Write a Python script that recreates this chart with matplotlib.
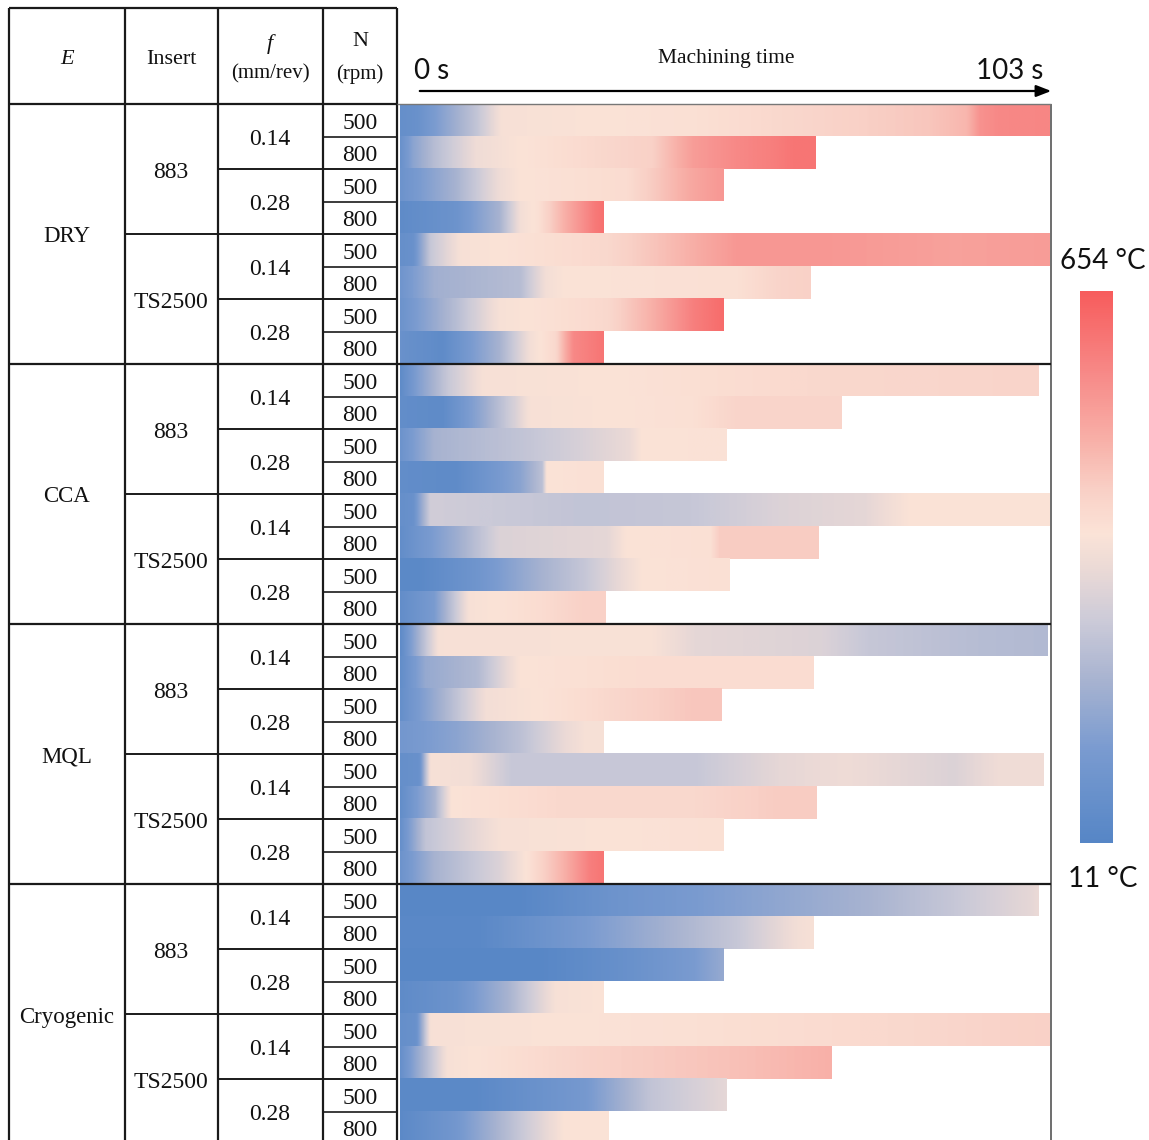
import numpy as np
import matplotlib as mpl
import matplotlib.pyplot as plt
from matplotlib.colors import LinearSegmentedColormap, Normalize

# ---------------- data ----------------
environments = ['DRY', 'CCA', 'MQL', 'Cryogenic']
inserts = ['883', 'TS2500']
feeds = ['0.14', '0.28']
speeds = ['500', '800']

temp_min, temp_max = 11, 654
time_max = 103

# machining time of each test (s), rows top to bottom
cut_time = [103, 65.8, 51.3, 32.2, 103, 65.0, 51.3, 32.2,
            101.2, 70.0, 51.8, 32.2, 103, 66.4, 52.2, 32.6,
            102.6, 65.5, 50.9, 32.2, 102, 66.0, 51.3, 32.2,
            101.2, 65.5, 51.3, 32.2, 103, 68.4, 51.8, 33.0]

# temperature: times (s) and temperatures (C)
knot_t = [
    [0, 2.6, 12, 16, 47, 67, 84, 90, 92, 95, 103],
    [0, 2.0, 5.4, 12, 19, 40, 46.6, 53.5, 59, 62.4, 65.8],
    [0, 8.8, 15.7, 19, 36, 41, 46.6, 51.3],
    [0, 8.8, 15.7, 19, 21.9, 26, 30.8, 32.2],
    [0, 2.0, 4.7, 9.5, 32.9, 43, 53.5, 67, 88, 103],
    [0, 5.4, 19, 23, 26, 53.5, 60, 65],
    [0, 8.8, 15.7, 33, 40, 46.6, 51.3],
    [0, 6.7, 15.7, 20.5, 24.6, 27.4, 32.2],
    [0, 2.6, 7.4, 13, 33, 67, 101.2],
    [0, 6.7, 12.2, 18.4, 20.5, 46.6, 53.5, 70],
    [0, 5.4, 19, 26, 36.3, 38.4, 51.8],
    [0, 8.8, 19, 22.5, 23.2, 32.2],
    [0, 2.0, 4.7, 12.2, 29.4, 46.6, 60, 74, 81, 103],
    [0, 8.8, 15.7, 33, 36, 49.3, 50.7, 66.4],
    [0, 3.3, 12.2, 22.5, 29.4, 34.2, 38.4, 52.2],
    [0, 5.4, 10.9, 22.5, 29.4, 32.6],
    [0, 3.3, 6, 39.7, 46.6, 67, 74, 91, 102.6],
    [0, 4, 12.2, 17, 19, 39.7, 65.5],
    [0, 6.7, 13.6, 29.4, 40, 46.6, 50.9],
    [0, 8.8, 19, 26, 29.4, 32.2],
    [0, 3.0, 4.7, 10.9, 17.7, 46.6, 60, 70.7, 87.8, 94.7, 102],
    [0, 5.4, 8.1, 26, 46.6, 60, 66],
    [0, 4, 15.7, 51.3],
    [0, 5.4, 15.7, 20.5, 26, 30, 32.2],
    [0, 19, 33, 53.5, 74, 88, 100, 101.2],
    [0, 12.2, 26, 39.7, 53.5, 63, 65.5],
    [0, 22.5, 36.3, 46.6, 51.3],
    [0, 8.8, 17, 24.6, 32.2],
    [0, 2.5, 4.7, 46.6, 81, 103],
    [0, 7.4, 33, 53.5, 68.4],
    [0, 12.2, 29.4, 39.7, 51.8],
    [0, 8.8, 19, 26, 33],
]
knot_T = [
    [60, 70, 250, 360, 380, 410, 440, 470, 540, 560, 565],
    [70, 150, 230, 340, 370, 420, 520, 560, 580, 600, 600],
    [80, 200, 340, 370, 390, 440, 500, 530],
    [40, 80, 200, 350, 380, 480, 590, 610],
    [60, 70, 260, 360, 400, 460, 530, 530, 510, 520],
    [90, 190, 230, 350, 370, 380, 410, 420],
    [80, 230, 360, 400, 480, 580, 620],
    [70, 40, 200, 350, 400, 560, 600],
    [40, 130, 260, 360, 370, 400, 410],
    [50, 40, 150, 300, 360, 380, 410, 410],
    [80, 200, 250, 280, 330, 370, 375],
    [50, 40, 150, 240, 370, 380],
    [60, 70, 280, 270, 250, 260, 300, 320, 370, 370],
    [50, 180, 300, 320, 370, 380, 430, 430],
    [30, 30, 90, 200, 260, 320, 370, 380],
    [50, 120, 360, 390, 420, 420],
    [40, 220, 360, 365, 320, 300, 260, 230, 220],
    [50, 170, 220, 330, 370, 390, 390],
    [60, 200, 350, 390, 420, 440, 440],
    [100, 150, 240, 330, 360, 360],
    [60, 70, 360, 350, 260, 260, 320, 340, 300, 340, 345],
    [50, 200, 370, 400, 400, 430, 430],
    [60, 250, 360, 380],
    [80, 200, 300, 380, 480, 580, 600],
    [20, 20, 80, 140, 200, 260, 320, 330],
    [25, 25, 100, 180, 260, 350, 360],
    [20, 20, 70, 120, 170],
    [40, 80, 200, 360, 370],
    [60, 70, 360, 380, 400, 420],
    [60, 360, 420, 450, 480],
    [30, 30, 110, 250, 320],
    [30, 100, 260, 370, 370],
]

# ---------------- figure ----------------
W, H = 1149, 1140
fig = plt.figure(figsize=(W / 100, H / 100), dpi=100)

cmap = LinearSegmentedColormap.from_list('temp', [
    (0.0, '#5686c6'), (0.17, '#7a9bd0'), (0.29, '#a6b2d0'),
    (0.40, '#cbcad8'), (0.50, '#ecdad6'), (0.56, '#fbe3d7'),
    (0.64, '#f9d0c6'), (0.73, '#f8b0a8'), (0.85, '#f78a88'),
    (1.0, '#f75c5c')])
norm = Normalize(temp_min, temp_max)

y0, rh = 104, 32.5          # header bottom and row height in pixels
n_rows = len(cut_time)
y_end = y0 + n_rows * rh

# heat bars
ax_heat = fig.add_axes([397 / W, 1 - y_end / H, 654 / W, (y_end - y0) / H])
for i in range(n_rows):
    tt = np.linspace(0, cut_time[i], 400)
    TT = np.interp(tt, knot_t[i], knot_T[i])
    ax_heat.imshow(TT[None, :], cmap=cmap, norm=norm, aspect='auto',
                   extent=(0, cut_time[i], i + 0.5, i - 0.5),
                   interpolation='bilinear')
ax_heat.set_xlim(-0.475, 103.17)
ax_heat.set_ylim(n_rows - 0.5, -0.5)
ax_heat.axis('off')

# table and frame drawn in pixel coordinates on top
ax = fig.add_axes([0, 0, 1, 1])
ax.set_xlim(0, W)
ax.set_ylim(H, 0)
ax.axis('off')
ax.patch.set_visible(False)

lc = '#1a1a1a'


def hline(y, x0, x1, lw=1.4, color=lc):
    ax.plot([x0, x1], [y, y], color=color, lw=lw, solid_capstyle='butt')


def vline(x, ya, yb, lw=1.4, color=lc):
    ax.plot([x, x], [ya, yb], color=color, lw=lw, solid_capstyle='butt')


cols = [9, 125, 218, 323, 397]
for x in cols:
    vline(x, 8, H, lw=1.6)
vline(1051, y0, H, lw=1.2, color='#555555')
hline(8, 9, 397, lw=1.6)
hline(y0, 9, 397, lw=1.6)
hline(y0, 397, 1051, lw=1.0, color='#777777')
for r in range(1, n_rows):
    if r % 8 == 0:
        hline(y0 + r * rh, 9, 1051, lw=1.6)
    elif r % 4 == 0:
        hline(y0 + r * rh, 125, 397)
    elif r % 2 == 0:
        hline(y0 + r * rh, 218, 397)
    else:
        hline(y0 + r * rh, 323, 397, lw=1.2)

serif = 'Liberation Serif'
tk = dict(ha='center', va='center', family=serif, color='#111111')
dy = 3  # small downward nudge of the centred labels

# header
ax.text(67, 57 + dy, 'E', fontsize=16, style='italic', **tk)
ax.text(171, 57 + dy, 'Insert', fontsize=16, **tk)
ax.text(270, 41 + dy, 'f', fontsize=16, style='italic', **tk)
ax.text(270, 71 + dy, '(mm/rev)', fontsize=15, **tk)
ax.text(360, 39 + dy, 'N', fontsize=16, **tk)
ax.text(360, 71 + dy, '(rpm)', fontsize=15, **tk)

# body labels
for e, env in enumerate(environments):
    yb = y0 + e * 8 * rh
    ax.text(67, yb + 4 * rh + dy, env, fontsize=16.5, **tk)
    for j, ins in enumerate(inserts):
        yi = yb + j * 4 * rh
        ax.text(171, yi + 2 * rh + dy, ins, fontsize=17, **tk)
        for k, fd in enumerate(feeds):
            yf = yi + k * 2 * rh
            ax.text(270, yf + rh + dy, fd, fontsize=17, **tk)
            for m, sp in enumerate(speeds):
                ax.text(360, yf + (m + 0.5) * rh + dy, sp, fontsize=17, **tk)

# time axis header
ax.text(726, 56 + dy, 'Machining time', fontsize=15.5, **tk)
sans = dict(va='center', family='Lato', fontsize=20, color='#111111')
ax.text(414, 69 + 2, '0 s', ha='left', **sans)
ax.text(1043, 69 + 2, f'{time_max} s', ha='right', **sans)
ax.annotate('', xy=(1054, 91), xytext=(417, 91),
            arrowprops=dict(arrowstyle='-|>,head_length=0.9,head_width=0.35',
                            color='black', lw=1.6))

# colour bar
cax = fig.add_axes([1080 / W, 1 - 843 / H, 33 / W, 552 / H])
cb = mpl.colorbar.ColorbarBase(cax, cmap=cmap, norm=norm, orientation='vertical')
cb.outline.set_visible(False)
cb.set_ticks([])
ax.text(1103, 259 + 2, f'{temp_max} °C', ha='center', **sans)
ax.text(1103, 877 + 2, f'{temp_min} °C', ha='center', **sans)

fig.savefig('out.png', dpi=100)
